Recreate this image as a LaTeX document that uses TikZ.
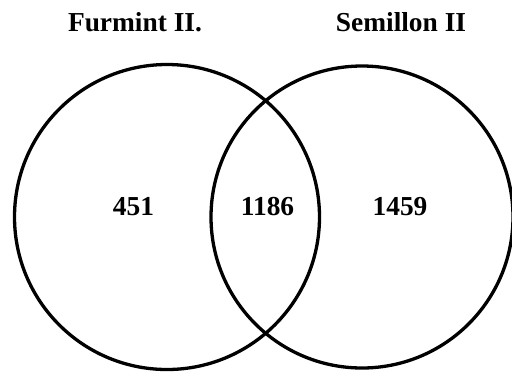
\documentclass[tikz,border=0pt]{standalone}
\usepackage{fontspec}
\setmainfont{Liberation Serif}
\begin{document}
\begin{tikzpicture}[x=1bp,y=-1bp,
  setcircle/.style={draw=black,line width=3.3bp},
  lbl/.style={font=\fontsize{27.5}{30}\selectfont\bfseries,anchor=base,inner sep=0pt}]
\useasboundingbox (0,0) rectangle (512,373);
\draw[setcircle] (167,217) circle[radius=152.5];
\draw[setcircle] (362,217) circle[radius=151];
\node[lbl] (tA) at (135,31) {Furmint II.};
\node[lbl] (tB) at (401,31) {Semillon II};
\node[lbl] (nA) at (133.5,215) {451};
\node[lbl] (nAB) at (267.5,215) {1186};
\node[lbl] (nB) at (400,215) {1459};
\end{tikzpicture}
\end{document}
